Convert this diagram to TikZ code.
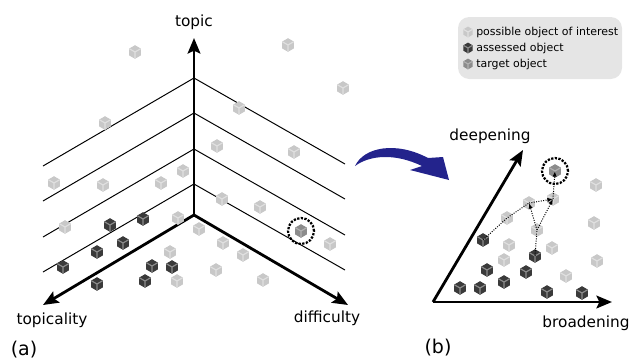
\documentclass[tikz,border=0pt]{standalone}
\usepackage{fontspec}
\setmainfont{DejaVu Sans}
\usepackage{xcolor}
\usetikzlibrary{shapes.geometric,arrows.meta}

\definecolor{lightobj}{RGB}{200,200,200}
\definecolor{darkobj}{RGB}{58,58,58}
\definecolor{targetobj}{RGB}{140,140,140}
\definecolor{legendbg}{RGB}{229,229,229}
\definecolor{bentarrow}{RGB}{35,35,140}

\begin{document}
\begin{tikzpicture}[
    x=0.025cm, y=-0.025cm,
    objY/.style={path picture={\draw[#1, line width=0.8pt]
        (path picture bounding box.center) -- +(150:4mm)
        +(0,0) -- +(30:4mm) +(0,0) -- +(270:4mm);}},
    obj/.style={regular polygon, regular polygon sides=6, shape border rotate=30,
        inner sep=0pt, minimum size=0.34cm},
    light/.style={obj, fill=lightobj, objY=white!88!black},
    dark/.style={obj, fill=darkobj, objY=black!45},
    target/.style={obj, fill=targetobj, objY=black!30},
    ring/.style={circle, draw=black, line width=1.6pt, densely dotted, minimum size=0.65cm},
    axis/.style={line width=2pt, -{Stealth[length=11pt, width=9pt, inset=2pt]}},
    grid/.style={line width=0.7pt},
    path/.style={densely dotted, line width=0.7pt, -{Latex[length=4pt, width=3pt]}},
    label/.style={font=\fontsize{10.9}{12}\selectfont},
    panel/.style={font=\fontsize{13.5}{15}\selectfont},
    legend/.style={font=\fontsize{7.8}{9}\selectfont, anchor=west, inner sep=0pt}
]
    \useasboundingbox (0,0) rectangle (633,363);

    % Axes of the object space
    \coordinate (O) at (194,215);
    \coordinate (topicEnd) at (194,38);
    \coordinate (topicalityEnd) at (43,305);
    \coordinate (difficultyEnd) at (348,305);

    % Topic levels
    \foreach \y in {78,113,149,184}
        \draw[grid] (43,\y+88) -- (194,\y) -- (345,\y+86);

    \draw[axis] (O) -- (topicEnd);
    \draw[axis] (O) -- (topicalityEnd);
    \draw[axis] (O) -- (difficultyEnd);

    \node[label] (topic) at (194,22) {topic};
    \node[label] (topicality) at (52,320) {topicality};
    \node[label] (difficulty) at (327,318) {difficulty};
    \node[panel] (a) at (24,350) {(a)};

    % Objects in space (a)
    \foreach \x/\y [count=\i] in {135/52, 288/45, 343/88, 105/123, 239/108, 217/146,
            294/152, 54/183, 103/185, 161/183, 183/171, 222/199, 260/207, 65/227,
            178/218, 199/229, 223/243, 243/255, 170/252, 216/270, 177/281, 263/280, 330/244}
        \node[light] (la\i) at (\x,\y) {};
    \foreach \x/\y [count=\i] in {110/225, 143/219, 123/243, 97/252, 63/267,
            152/266, 172/267, 97/284, 145/281}
        \node[dark] (da\i) at (\x,\y) {};
    \node[target] (ta) at (301,231) {};
    \node[ring] at (ta) {};

    % Legend
    \fill[legendbg, rounded corners=8pt] (458,17) rectangle (622,79);
    \node[light, minimum size=0.27cm] (keyLight) at (468,32) {};
    \node[dark, minimum size=0.27cm] (keyDark) at (468,48) {};
    \node[target, minimum size=0.27cm] (keyTarget) at (468,64) {};
    \node[legend] at (476,32) {possible object of interest};
    \node[legend] at (476,48) {assessed object};
    \node[legend] at (476,64) {target object};

    % Bent arrow
    \fill[bentarrow] (355,166) .. controls (364,147) and (396,141) .. (428,158)
        -- (443,157) -- (449,180) -- (410,170) -- (422,166)
        .. controls (395,153) and (370,155) .. (355,166) -- cycle;

    % Axes of the search space
    \coordinate (B) at (433,302);
    \coordinate (deepeningEnd) at (523,150);
    \coordinate (broadeningEnd) at (612,302);
    \draw[axis] (B) -- (deepeningEnd);
    \draw[axis] (B) -- (broadeningEnd);

    \node[label] (deepening) at (490,136) {deepening};
    \node[label] (broadening) at (586,323) {broadening};
    \node[panel] (b) at (438,348) {(b)};

    % Objects in space (b)
    \foreach \x/\y [count=\i] in {509/245, 552/248, 504/260, 566/276, 596/185, 594/223, 597/261}
        \node[light] (lb\i) at (\x,\y) {};
    \foreach \x/\y [count=\i] in {487/270, 526/272, 504/282, 460/288, 480/288, 547/292, 582/293}
        \node[dark] (db\i) at (\x,\y) {};
    \node[dark] (startA) at (483,240) {};
    \node[dark] (startB) at (535,256) {};
    \node[light] (p1) at (507,218) {};
    \node[light] (p2) at (529,203) {};
    \node[light] (p3) at (553,199) {};
    \node[light] (p4) at (537,230) {};
    \node[target] (tb) at (555,171) {};
    \node[ring] at (tb) {};

    % Search paths
    \draw[path, -] (startA.center) -- (p1.center) -- (p2.center);
    \draw[path] (p2.center) -- (p3.center);
    \draw[path, -] (startB.center) -- (p4.center);
    \draw[path] (p4.center) -- (p2.center);
    \draw[path] (p4.center) -- (p3.center);
    \draw[path] (p3.center) -- (tb.center);
\end{tikzpicture}
\end{document}
